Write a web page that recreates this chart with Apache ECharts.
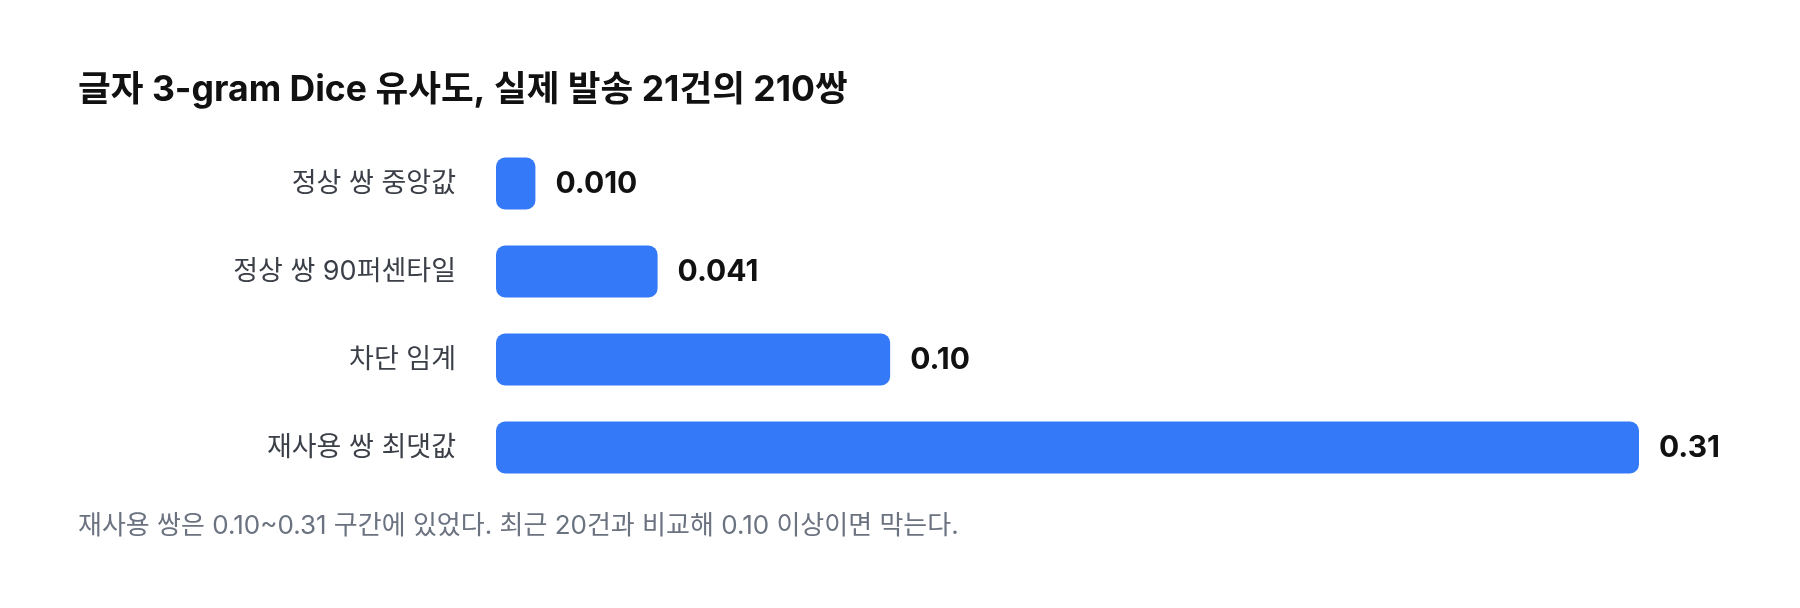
<!DOCTYPE html>
<html>
<head>
<meta charset="utf-8">
<script src="https://cdn.jsdelivr.net/npm/echarts@6/dist/echarts.min.js"></script>
<style>
html,body{margin:0;padding:0;background:#fff;}
#chart{width:1800px;height:608px;}
</style>
</head>
<body>
<div id="chart"></div>
<script>
const titleText = '글자 3-gram Dice 유사도, 실제 발송 21건의 210쌍';
const noteText = '재사용 쌍은 0.10~0.31 구간에 있었다. 최근 20건과 비교해 0.10 이상이면 막는다.';
const categories = ['정상 쌍 중앙값', '정상 쌍 90퍼센타일', '차단 임계', '재사용 쌍 최댓값'];
const values = [0.010, 0.041, 0.10, 0.31];
const valueLabels = ['0.010', '0.041', '0.10', '0.31'];

const FONT = "Inter, 'Noto Sans CJK KR', sans-serif";
const chart = echarts.init(document.getElementById('chart'));
chart.setOption({
  backgroundColor: '#ffffff',
  animation: false,
  title: [
    {
      text: titleText,
      left: 73, top: 68,
      textStyle: {fontFamily: FONT, fontSize: 35.6, fontWeight: 'bold', color: '#111111'}
    },
    {
      text: noteText,
      left: 73, top: 508,
      textStyle: {fontFamily: FONT, fontSize: 26, fontWeight: 'normal', color: '#6b7280'}
    }
  ],
  grid: {left: 496, right: 161, top: 139.5, bottom: 116.5, containLabel: false},
  xAxis: {
    type: 'value', min: 0, max: 0.29,
    show: false
  },
  yAxis: {
    type: 'category', data: categories, inverse: true,
    axisLine: {show: false}, axisTick: {show: false}, splitLine: {show: false},
    axisLabel: {margin: 40, fontFamily: FONT, fontSize: 27, color: '#3b3f47'}
  },
  series: [{
    type: 'bar',
    data: values,
    barWidth: 52,
    itemStyle: {color: '#3479f8', borderRadius: 9},
    label: {
      show: true, position: 'right', distance: 20,
      fontFamily: FONT, fontSize: 30, fontWeight: 'bold', color: '#111111',
      formatter: p => valueLabels[p.dataIndex]
    }
  }]
});
</script>
</body>
</html>
